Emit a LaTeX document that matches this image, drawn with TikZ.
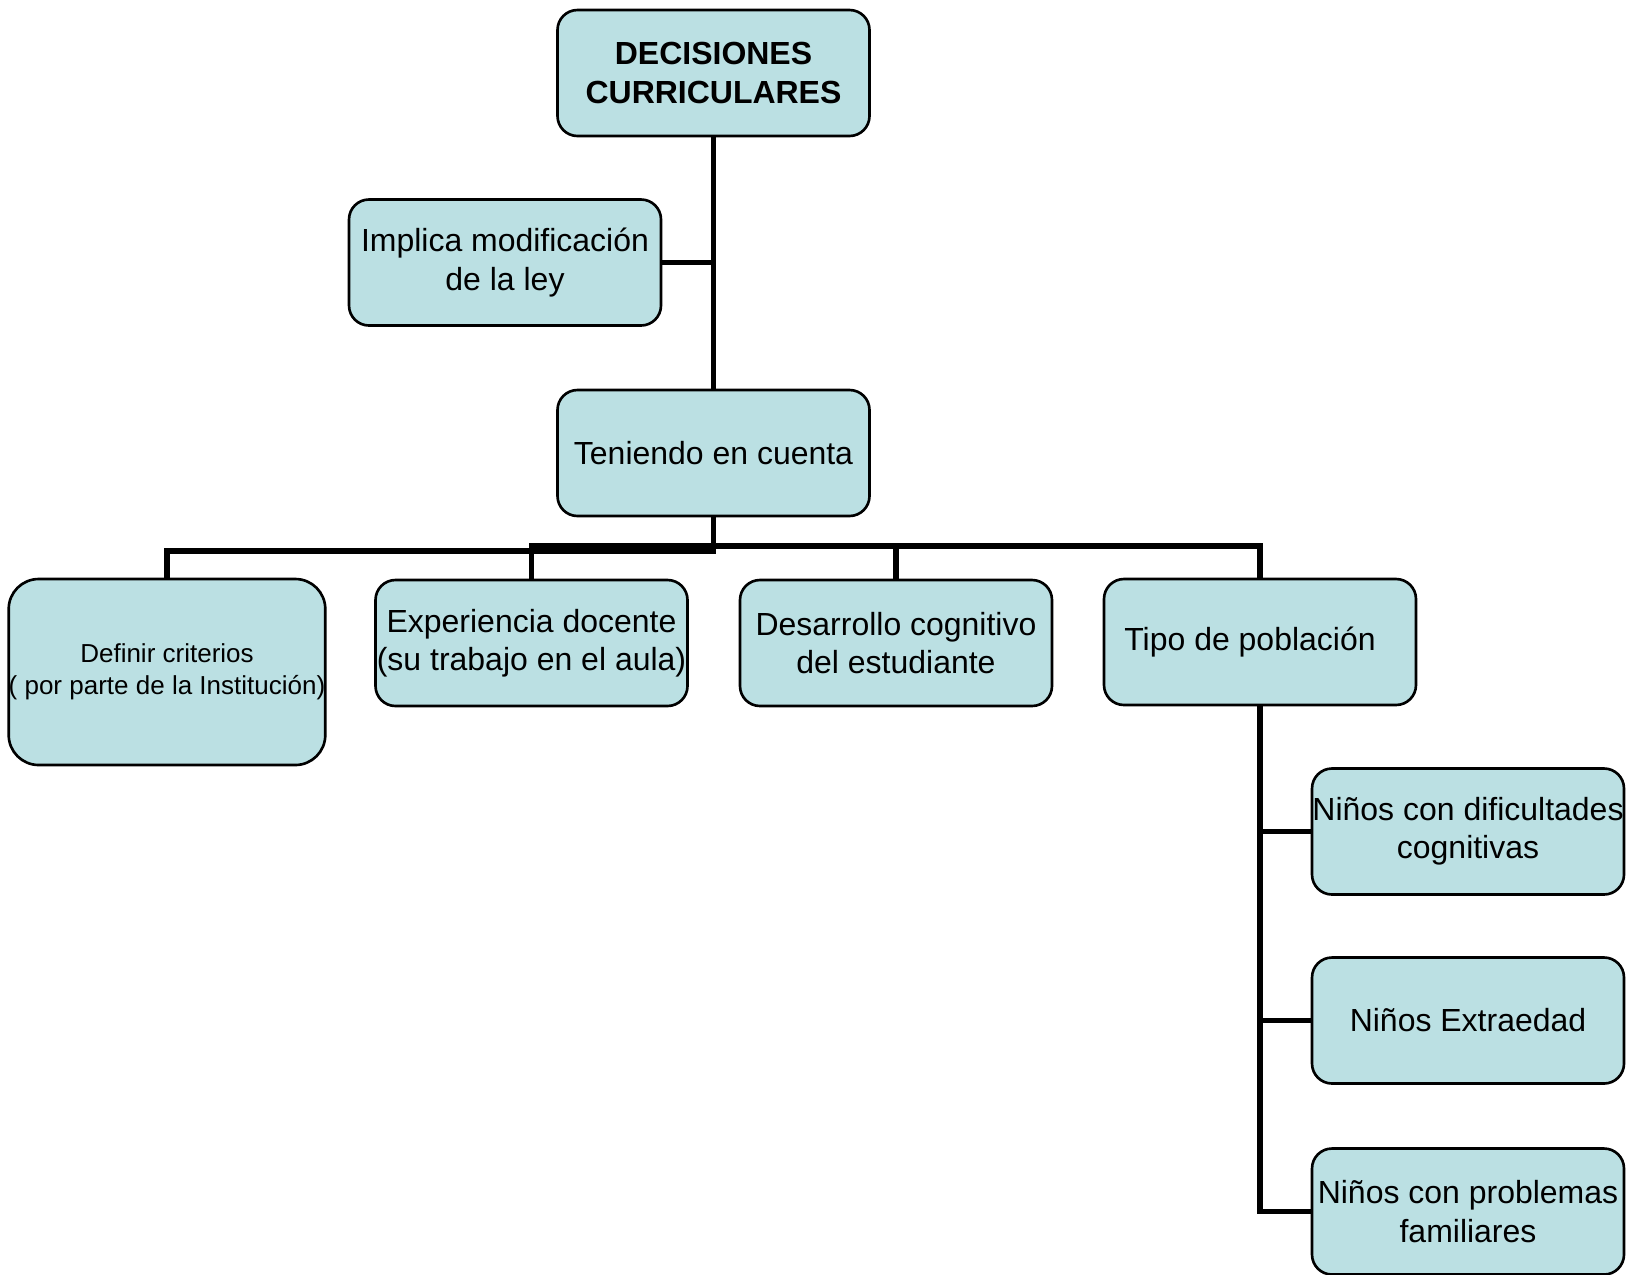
\documentclass[tikz,border=0pt]{standalone}
\usepackage{fontspec}
\setmainfont{Liberation Sans}
\usetikzlibrary{positioning}
\definecolor{cajafill}{RGB}{187,224,227}

\begin{document}
\begin{tikzpicture}[x=0.1mm,y=-0.1mm]
  \tikzstyle{caja}=[rectangle,draw,rounded corners=2mm,fill=cajafill,line width=0.75pt,
    minimum width=31.2mm,minimum height=12.6mm,inner sep=0pt,align=center,
    font=\fontsize{9.1}{10.9}\selectfont]
  \tikzstyle{conn}=[line width=1.45pt]
  \useasboundingbox (0,0) rectangle (1627,1274);
  \coordinate (busa) at (716,551);
  \coordinate (busb) at (713,546);
  \node[caja,font=\bfseries\fontsize{9.1}{10.9}\selectfont] (decis) at (713.5,73) {DECISIONES\\CURRICULARES};
  \node[caja] (impl) at (505,262.5) {Implica modificación\\de la ley};
  \node[caja] (tener) at (713.5,453) {Teniendo en cuenta};
  \node[caja,minimum width=31mm,minimum height=18.6mm,rounded corners=3mm,
    font=\fontsize{7.4}{9}\selectfont] (defin) at (167,672) {Definir criterios\\( por parte de la Institución)};
  \node[caja] (exper) at (531.5,643) {Experiencia docente\\(su trabajo en el aula)};
  \node[caja] (desar) at (896,643) {Desarrollo cognitivo\\del estudiante};
  \node[caja] (tipo) at (1260,642) {Tipo de población\hspace*{2mm}};
  \node[caja] (dific) at (1468,831.5) {Niños con dificultades\\cognitivas};
  \node[caja] (extra) at (1468,1020.5) {Niños Extraedad};
  \node[caja] (probl) at (1468,1211.5) {Niños con problemas\\familiares};
  % connectors
  \draw[conn] (decis.south) -- (tener.north);
  \draw[conn] (impl.east) -- (impl.east -| decis.south);
  \draw[conn] (tener.south) -- (tener.south |- busa);
  \draw[conn] (defin.north) |- (busa);
  \draw[conn] (exper.north) |- (busb) -| (tipo.north);
  \draw[conn] (desar.north) -- (desar.north |- busb);
  \draw[conn] (tipo.south) |- (probl.west);
  \draw[conn] (dific.west) -- (dific.west -| tipo.south);
  \draw[conn] (extra.west) -- (extra.west -| tipo.south);
\end{tikzpicture}
\end{document}
